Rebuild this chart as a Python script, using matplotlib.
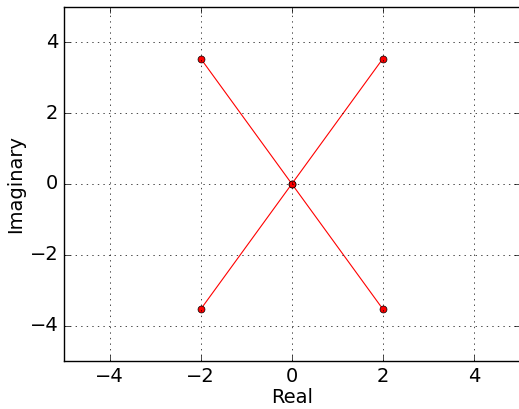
import matplotlib
matplotlib.use("Agg")
from matplotlib import pyplot as plt
import numpy as np

plt.style.use('classic')

# root locations in the complex plane
real_a = [-2, 0, 2]
imag_a = [3.54, 0, -3.54]
real_b = [2, 0, -2]
imag_b = [3.54, 0, -3.54]

fig = plt.figure(figsize=(5.19, 4.09), dpi=100, facecolor='white')
ax = fig.add_axes([0.1233, 0.1174, 0.878, 0.866])

for re, im in [(real_a, imag_a), (real_b, imag_b)]:
	ax.plot(re, im, 'o-', color='red', mec='black', ms=5, lw=0.8)

ax.set_xlim(-5, 5)
ax.set_ylim(-5, 5)
ax.set_xticks([-4, -2, 0, 2, 4])
ax.set_yticks([-4, -2, 0, 2, 4])
ax.tick_params(labelsize=14)
ax.grid(True)
ax.set_xlabel("Real", fontsize=14, labelpad=2)
ax.set_ylabel("Imaginary", fontsize=14, labelpad=3)

fig.savefig("out.png", dpi=100, facecolor='white')
